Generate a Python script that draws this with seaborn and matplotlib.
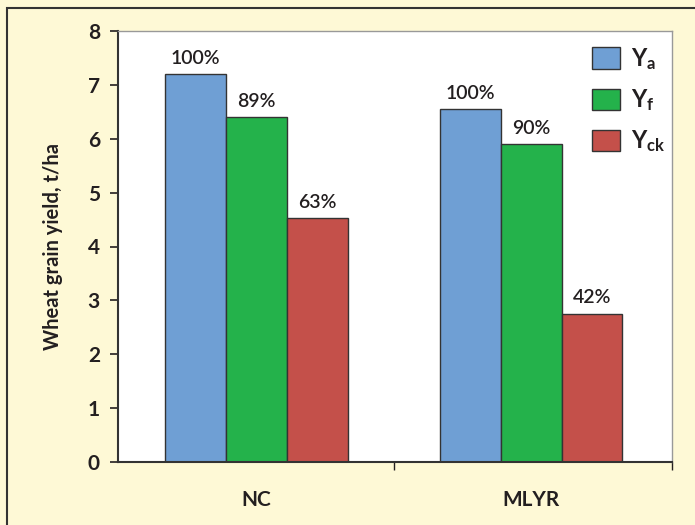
import matplotlib
matplotlib.use("Agg")
import matplotlib.pyplot as plt
import seaborn as sns
import pandas as pd
from matplotlib.patches import Rectangle

# Yields (t/ha) per region and yield type
regions = ["NC", "MLYR"]
yield_types = ["Ya", "Yf", "Yck"]
yield_labels = [r"$\mathbf{Y_a}$", r"$\mathbf{Y_f}$", r"$\mathbf{Y_{ck}}$"]
nc_yields = [7.2, 6.4, 4.52]
mlyr_yields = [6.55, 5.9, 2.75]
pct_labels = {"NC": ["100%", "89%", "63%"], "MLYR": ["100%", "90%", "42%"]}

colors = ["#6F9FD4", "#24B24B", "#C4504A"]
bg = "#FEF9D6"
ink = "#231F20"

rows = []
for reg, vals in zip(regions, [nc_yields, mlyr_yields]):
    for t, v in zip(yield_types, vals):
        rows.append({"region": reg, "type": t, "yield": v})
df = pd.DataFrame(rows)

sns.set_theme(style="white")
plt.rcParams["font.family"] = ["Lato", "DejaVu Sans"]
plt.rcParams["mathtext.fontset"] = "custom"
plt.rcParams["mathtext.rm"] = "Lato"
plt.rcParams["mathtext.bf"] = "Lato:bold"

fig = plt.figure(figsize=(6.95, 5.25), dpi=100, facecolor=bg)
ax = fig.add_axes([118 / 695, 63 / 525, 554 / 695, 431 / 525])
ax.set_facecolor("white")

sns.barplot(data=df, x="region", y="yield", hue="type", order=regions,
            hue_order=yield_types, palette=colors, width=0.665, gap=0,
            edgecolor="#333333", linewidth=1.0, saturation=1, ax=ax,
            legend=False)

# percent labels above bars
for ti, cont in enumerate(ax.containers):
    for bar, reg in zip(cont, regions):
        ax.text(bar.get_x() + bar.get_width() / 2, bar.get_height() + 0.14,
                pct_labels[reg][ti], ha="center", va="bottom",
                fontsize=14, color=ink, fontweight="semibold")

ax.set_ylim(0, 8)
ax.set_xlim(-0.505, 1.513)
ax.set_yticks(range(0, 9))
ax.tick_params(axis="y", which="major", length=6, width=1.2, color=ink,
               labelsize=15, labelcolor=ink, pad=7, left=True)
for lab in ax.get_yticklabels():
    lab.set_fontweight("bold")

ax.set_xticks([0, 1])
ax.set_xticklabels(regions, fontsize=15, fontweight="bold", color=ink)
ax.tick_params(axis="x", which="major", length=0, pad=20)
ax.set_xticks([0.5, 1.513], minor=True)
ax.tick_params(axis="x", which="minor", length=6, width=1.0, color=ink, bottom=True)

ax.set_xlabel("")
ax.set_ylabel("Wheat grain yield, t/ha", fontsize=14.5, fontweight="bold",
              color=ink, labelpad=18)

for side in ["left", "bottom"]:
    ax.spines[side].set_color("#333333")
    ax.spines[side].set_linewidth(1.5)
for side in ["top", "right"]:
    ax.spines[side].set_color("#999999")
    ax.spines[side].set_linewidth(1.0)

handles = [Rectangle((0, 0), 1, 1, facecolor=c, edgecolor="#333333", linewidth=1.0)
           for c in colors]
leg = ax.legend(handles, yield_labels, loc="upper left", frameon=False,
                fontsize=17, handlelength=1.2, handleheight=1.0,
                labelspacing=0.65, handletextpad=0.45,
                bbox_to_anchor=(0.855, 0.965), borderaxespad=0, borderpad=0)
for t in leg.get_texts():
    t.set_color(ink)

# frame line along top and left of the figure
fig.add_artist(Rectangle((7 / 695, -0.1), 1.2, (525 - 8) / 525 + 0.1,
                         transform=fig.transFigure, fill=False,
                         edgecolor="#333333", linewidth=1.5))

fig.savefig("out.png", dpi=100, facecolor=bg)
